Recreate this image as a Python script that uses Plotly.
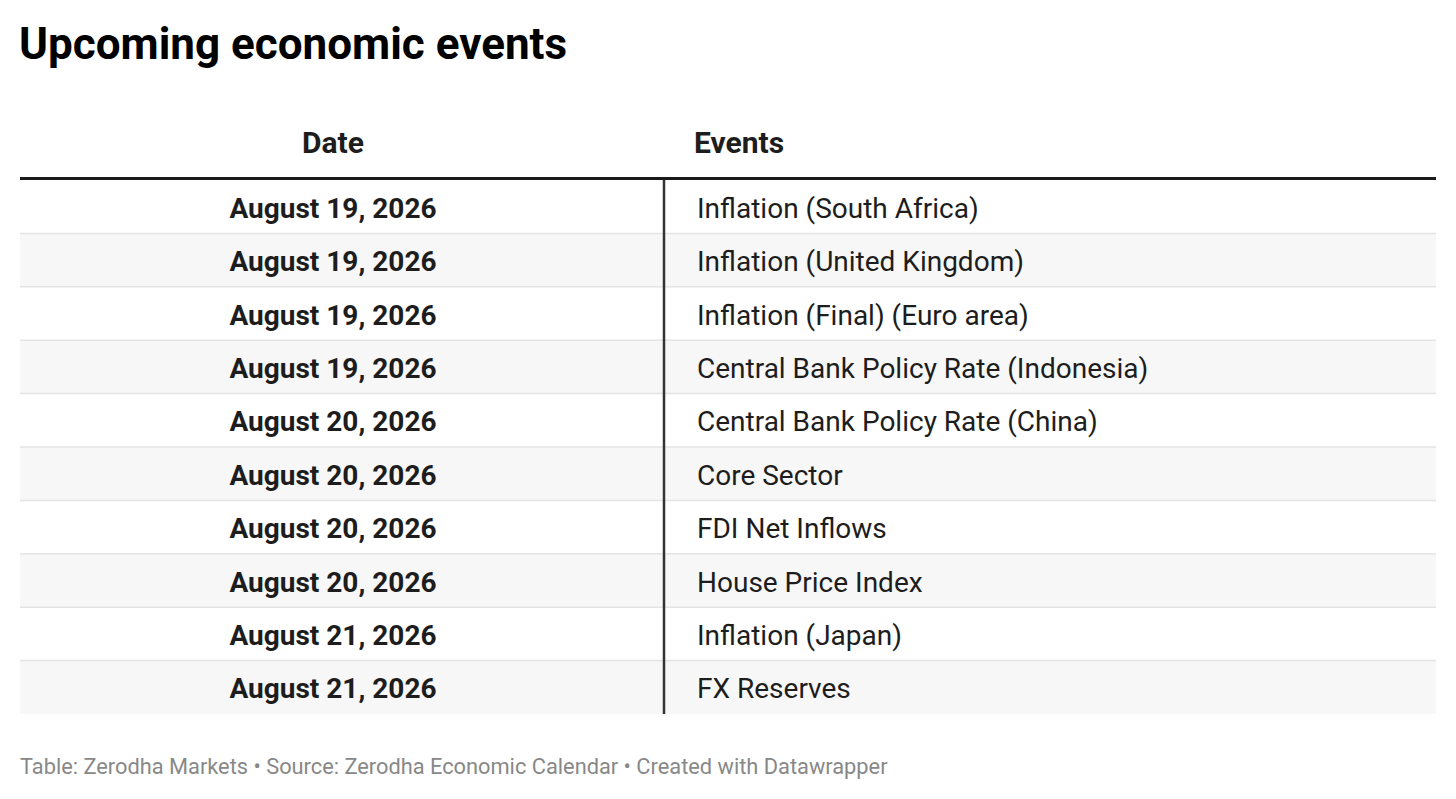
import plotly.graph_objects as go

title = "Upcoming economic events"
headers = ["Date", "Events"]
dates = [
    "August 19, 2026", "August 19, 2026", "August 19, 2026", "August 19, 2026",
    "August 20, 2026", "August 20, 2026", "August 20, 2026", "August 20, 2026",
    "August 21, 2026", "August 21, 2026",
]
events = [
    "Inflation (South Africa)",
    "Inflation (United Kingdom)",
    "Inflation (Final) (Euro area)",
    "Central Bank Policy Rate (Indonesia)",
    "Central Bank Policy Rate (China)",
    "Core Sector",
    "FDI Net Inflows",
    "House Price Index",
    "Inflation (Japan)",
    "FX Reserves",
]
footer = "Table: Zerodha Markets • Source: Zerodha Economic Calendar • Created with Datawrapper"

W, H = 1456, 799
ML, MR, MT, MB = 20, 20, 180, 85
n = len(dates)
plot_w = W - ML - MR
plot_h = H - MT - MB

split_x = (664 - ML) / plot_w
date_x = (333 - ML) / plot_w
event_x = (697 - ML) / plot_w
text_drop = 4.0 / (plot_h / n)   # nudge row text down a few px, in row units

rows = list(range(n))
FONT = "Roboto"
TEXT = "#1d1d1d"

fig = go.Figure()

# striped row backgrounds
fig.add_trace(go.Bar(
    y=rows, x=[1] * n, base=0, orientation="h", width=1,
    marker=dict(color=["#ffffff" if i % 2 == 0 else "#f7f7f7" for i in rows], line_width=0),
    hoverinfo="skip", showlegend=False,
))

fig.add_trace(go.Scatter(
    x=[date_x] * n, y=rows, text=dates, mode="text", textposition="middle center",
    textfont=dict(family=FONT, size=28, color=TEXT, weight="bold"),
    hoverinfo="skip", showlegend=False, yaxis="y2",
))
fig.add_trace(go.Scatter(
    x=[event_x] * n, y=rows, text=events, mode="text", textposition="middle right",
    textfont=dict(family=FONT, size=28, color=TEXT),
    hoverinfo="skip", showlegend=False, yaxis="y2",
))

# row separators
for i in rows[:-1]:
    fig.add_shape(type="line", xref="x", yref="y", x0=0, x1=1, y0=i + 0.5, y1=i + 0.5,
                  line=dict(color="#e4e4e4", width=1.5))
# column divider
fig.add_shape(type="line", xref="x", yref="y", x0=split_x, x1=split_x, y0=-0.5, y1=n - 0.5,
              line=dict(color="#333333", width=2.5))


def py(px_from_top):
    # pixel row from the top of the page -> paper y
    return 1 + (MT - px_from_top) / plot_h


# header rule
fig.add_shape(type="line", xref="paper", yref="paper", x0=0, x1=1, y0=py(178.5), y1=py(178.5),
              line=dict(color="#1a1a1a", width=3))

fig.add_annotation(text=headers[0], x=date_x, y=py(142), xref="paper", yref="paper",
                   xanchor="center", yanchor="middle", showarrow=False,
                   font=dict(family=FONT, size=30, color=TEXT, weight="bold"))
fig.add_annotation(text=headers[1], x=(694 - ML) / plot_w, y=py(142), xref="paper", yref="paper",
                   xanchor="left", yanchor="middle", showarrow=False, xshift=-2,
                   font=dict(family=FONT, size=30, color=TEXT, weight="bold"))
fig.add_annotation(text=title, x=0, y=py(44), xref="paper", yref="paper",
                   xanchor="left", yanchor="middle", showarrow=False, xshift=-3,
                   font=dict(family=FONT, size=44, color="#000000", weight="bold"))
fig.add_annotation(text=footer, x=0, y=py(766), xref="paper", yref="paper",
                   xanchor="left", yanchor="middle", showarrow=False, xshift=-2,
                   font=dict(family=FONT, size=21.8, color="#888888"))

fig.update_layout(
    width=W, height=H, autosize=False,
    margin=dict(l=ML, r=MR, t=MT, b=MB, pad=0),
    paper_bgcolor="#ffffff", plot_bgcolor="#ffffff",
    bargap=0,
    xaxis=dict(range=[0, 1], visible=False, fixedrange=True),
    yaxis=dict(range=[n - 0.5, -0.5], visible=False, fixedrange=True),
    yaxis2=dict(range=[n - 0.5 - text_drop, -0.5 - text_drop], overlaying="y",
                visible=False, fixedrange=True),
)

fig.write_html("out.html", config={"displayModeBar": False},
               post_script="document.body.style.margin='0';")
